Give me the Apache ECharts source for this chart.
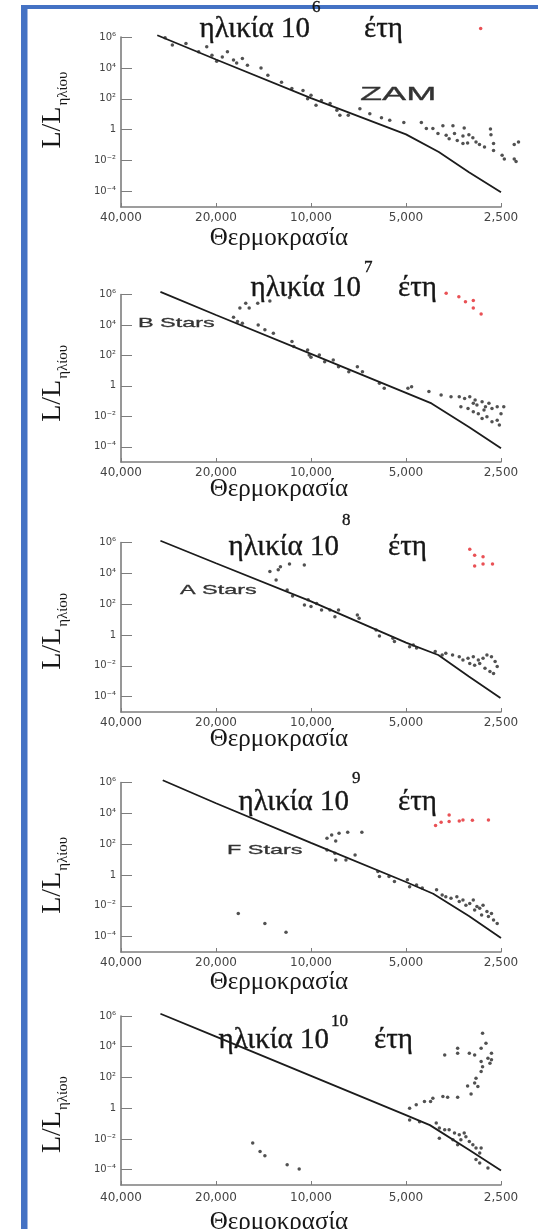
<!DOCTYPE html>
<html><head><meta charset="utf-8">
<script src="https://cdn.jsdelivr.net/npm/echarts@6/dist/echarts.min.js"></script>
<style>html,body{margin:0;padding:0;background:#fff}#c{width:538px;height:1229px}</style>
</head><body><div id="c"></div>
<script>
// ---------- data ----------
const tempTicks = [40000, 20000, 10000, 5000, 2500];
const lumTicks = [1e-4, 1e-2, 1, 1e2, 1e4, 1e6];
const ageExponents = ['6', '7', '8', '9', '10'];
const starLabels = ['ZAM', 'B Stars', 'A Stars', 'F Stars', ''];

const zams1 = [[30700,1.3e6],[20000,3.5e4],[10000,112],[5000,0.5],[3935,0.036],[3158,0.0018],[2500,9.1e-5]];
const zams2 = [[30000,1.5e6],[20000,4.5e4],[10000,126],[5000,0.35],[4150,0.07],[3160,0.002],[2500,8e-5]];
const zams3 = [[30000,1.3e6],[20000,4.5e4],[10000,150],[5000,0.32],[3950,0.05],[3160,0.002],[2510,8e-5]];
const zams4 = [[29500,1.4e6],[20000,4.5e4],[10000,120],[5000,0.35],[4100,0.06],[3160,0.0022],[2500,8e-5]];
const zams5 = [[30000,1.4e6],[20000,4.5e4],[10000,126],[5000,0.35],[4200,0.079],[3160,0.002],[2500,8.9e-5]];

const stars1 = [[29000,8.9e5],[27500,3.0e5],[24900,3.8e5],[22700,1.1e5],[21400,2.3e5],[20600,6.6e4],[19900,2.7e4],[19100,5.1e4],[18400,1.1e5],[17600,3.2e4],[17200,2.1e4],[16500,4.0e4],[15900,1.5e4],[14400,1.0e4],[13700,3.3e3],[12400,1.2e3],[11500,460],[10600,350],[10250,100],[10000,170],[9640,38],[9270,79],[8700,49],
[8280,18],[8100,8.7],[7620,8.7],[7000,23],[6510,11],[5980,5.9],[5630,4.1],[5080,2.9],[4470,2.9],[4310,1.2],[4110,1.2],[3820,1.8],[3550,1.8],[3270,1.3],[2700,1.1],[3960,0.56],[3730,0.44],[3510,0.56],[3300,0.40],[3160,0.48],[3070,0.30],[3650,0.26],[3440,0.20],[3300,0.13],[3190,0.14],[3000,0.16],[2925,0.11],[2820,0.076],[2690,0.48],[2640,0.13],[2640,0.046],[2480,0.022],[2440,0.013],[2270,0.013],[2270,0.11],[2200,0.16],[2240,0.0089]];
const red1 = [[2900,3.6e6]];

const stars2 = [[16100,2.7e5],[14750,2.7e5],[16800,1.3e5],[15700,1.3e5],[13500,3.8e5],[11700,6.3e5],
[17600,3.2e4],[17100,1.7e4],[16500,1.3e4],[14700,1.0e4],[14000,4.8e3],[13160,2.9e3],[11490,810],[11340,380],[10250,230],[10130,107],[10000,76],[9410,107],[9050,39],[8500,50],[8180,18],[7590,8.5],[7130,18],[6870,8.5],[6070,1.5],[5860,0.69],[4930,0.69],[4800,0.89],
[4230,0.42],[3870,0.25],[3600,0.19],[3390,0.19],[3260,0.15],[3140,0.19],[3020,0.12],[2980,0.055],[2870,0.091],[2800,0.043],[2730,0.071],[2670,0.033],[2570,0.043],[2500,0.015],[2450,0.043],[3350,0.043],[3180,0.033],[3060,0.02],[2950,0.015],[2870,0.0072],[2770,0.0093],[2670,0.0044],[2570,0.0056],[2530,0.0027],[3060,0.071],[2830,0.026]];
const red2 = [[3730,1.2e6],[3400,7.2e5],[3240,3.4e5],[3060,4.0e5],[3060,1.3e5],[2890,5.2e4]];

const stars3 = [[13500,1.3e4],[12700,1.7e4],[12500,2.7e4],[11700,4.1e4],[10500,3.5e4],[12900,3.7e3],
[11900,830],[11440,340],[10490,89],[10210,190],[10000,69],[9600,112],[9260,42],[8710,42],[8400,15],[8180,42],[7130,20],[7040,12],[6220,2.1],[6070,0.87],[5500,0.6],[5440,0.37],[4870,0.17],[4740,0.22],[4630,0.14],
[4040,0.083],[3840,0.05],[3740,0.065],[3560,0.05],[3390,0.039],[3300,0.024],[3180,0.031],[3060,0.039],[2950,0.024],[2850,0.031],[2770,0.05],[2680,0.039],[2610,0.019],[2570,0.0089],[3030,0.011],[2920,0.014],[2810,0.0069],[2710,0.0042],[2640,0.0032],[3140,0.014]];
const red3 = [[3140,3.6e5],[3030,1.5e5],[2850,1.2e5],[3030,3.0e4],[2850,4.1e4],[2660,4.1e4]];

const stars4 = [[8900,240],[8600,390],[8350,160],[8150,500],[7650,590],[6900,590],[8900,42],[8400,26],[8350,9.3],[7750,9.3],[7250,20],
[6140,1.7],[6070,0.78],[5660,0.78],[5440,0.37],[4950,0.48],[4870,0.17],[4630,0.22],[4440,0.14],
[4000,0.11],[3840,0.05],[3740,0.039],[3600,0.031],[3450,0.039],[3390,0.019],[3300,0.024],[3230,0.011],[3140,0.014],[3060,0.024],[2980,0.0089],[2920,0.0069],[2850,0.011],[2770,0.0042],[2680,0.0032],[2640,0.0012],[2570,0.00072],[2740,0.002],[2880,0.0025],[3030,0.0054],
[17000,0.0032],[14000,0.00072],[12000,0.00019]];
const red4 = [[4030,1600],[3870,2600],[3650,2900],[3650,7800],[3390,3200],[3300,3700],[3080,3500],[2740,3700]];

const stars5 = [[2860,7.4e4],[2790,1.7e4],[2890,7.9e3],[2680,3.7e3],[3770,2.9e3],[3430,7.9e3],[3430,3.7e3],[3150,3.7e3],[3030,2.9e3],[2750,1.8e3],[2890,1.1e3],[2680,1.4e3],[2710,830],[2860,500],[2890,240],[3000,89],[3030,43],[2960,26],[3190,28],[3110,8.5],[3430,5.2],[3690,5.2],[3820,5.8],[4110,4.5],[4180,2.7],[4370,2.7],[4640,1.7],[4870,1.0],
[4870,0.17],[4530,0.13],[4010,0.11],[3920,0.051],[3920,0.011],[3770,0.04],[3650,0.04],[3510,0.024],[3390,0.019],[3270,0.024],[3230,0.014],[3350,0.0089],[3150,0.0069],[3070,0.0042],[3000,0.0026],[2890,0.0026],[2920,0.0012],[3000,0.00045],[2920,0.00027],[2750,0.00013],[3430,0.0042],[3550,0.0089],
[15300,0.0054],[14500,0.0015],[14000,0.00081],[11900,0.00021],[10900,0.00011]];
const red5 = [];

// ---------- layout ----------
const panels = [
  {top:37,  height:170, zams:zams1, stars:stars1, red:red1, xNameGap:19, xLabMargin:5, yShift:-12,
   t:{x10:310, y:29, xs:312, ys:8, xe:364}, ann:{x:360, y:95, size:19, sx:1.9}},
  {top:294.5, height:167.5, zams:zams2, stars:stars2, red:red2, xNameGap:15, xLabMargin:5, yShift:5,
   t:{x10:361, y:288, xs:364, ys:268, xe:398}, ann:{x:138, y:323, size:13, sx:1.8}},
  {top:542.5, height:169.5, zams:zams3, stars:stars3, red:red3, xNameGap:15, xLabMargin:5, yShift:4,
   t:{x10:339, y:547, xs:342, ys:521, xe:388}, ann:{x:180, y:590, size:13, sx:1.8}},
  {top:782.5, height:169.5, zams:zams4, stars:stars4, red:red4, xNameGap:18, xLabMargin:5, yShift:8,
   t:{x10:349, y:802, xs:352, ys:779, xe:398}, ann:{x:227, y:850, size:13, sx:1.8}},
  {top:1016, height:169, zams:zams5, stars:stars5, red:red5, xNameGap:25, xLabMargin:7, yShift:14,
   t:{x10:329, y:1040, xs:331, ys:1021.5, xe:374}, ann:null}
];

const SUP = {'-':'\u207B','0':'\u2070','1':'\u00B9','2':'\u00B2','3':'\u00B3','4':'\u2074','5':'\u2075','6':'\u2076','7':'\u2077','8':'\u2078','9':'\u2079'};
function fmtL(v){ const e = Math.round(Math.log10(v)); return e === 0 ? '1' : '10' + String(e).split('').map(c => SUP[c]).join(''); }
function fmtT(v){ return Math.round(v).toLocaleString('en-US'); }

const AX = '#7d7d7d', INK = '#161616';
const grid = [], xAxis = [], yAxis = [], series = [], graphic = [];

graphic.push({type:'rect', shape:{x:21, y:5, width:6.5, height:1224}, style:{fill:'#4472c4'}, silent:true});
graphic.push({type:'rect', shape:{x:21, y:5, width:517, height:4}, style:{fill:'#4472c4'}, silent:true});

function txt(x, y, text, size, align, extra) {
  return Object.assign({type:'text', x:x, y:y, silent:true, style:{text:text, fontFamily:'Liberation Serif', fontSize:size, fill:INK,
    stroke:INK, lineWidth:0.35, align:align, textAlign:align, verticalAlign:'middle', textVerticalAlign:'middle'}}, extra || {});
}

panels.forEach((p, i) => {
  grid.push({left:121, width:380, top:p.top, height:p.height, containLabel:false, outerBoundsMode:'none'});
  xAxis.push({
    type:'log', logBase:2, gridIndex:i, inverse:true, min:2500, max:40000,
    axisLine:{show:true, onZero:false, lineStyle:{color:AX, width:1.6}},
    axisTick:{show:true, inside:true, length:4, customValues:tempTicks, lineStyle:{color:AX, width:1}},
    axisLabel:{show:true, customValues:tempTicks, formatter:fmtT, fontFamily:'DejaVu Sans', fontSize:12, color:'#444', margin:p.xLabMargin},
    splitLine:{show:false}, minorTick:{show:false}, minorSplitLine:{show:false},
    name:'Θερμοκρασία', nameLocation:'middle', nameGap:p.xNameGap, nameMoveOverlap:false,
    nameTextStyle:{fontFamily:'Liberation Serif', fontSize:25, color:INK, padding:[0,64,0,0]}
  });
  const sh = p.yShift;
  yAxis.push({
    type:'log', logBase:10, gridIndex:i, min:1e-5, max:1e6,
    axisLine:{show:true, onZero:false, lineStyle:{color:AX, width:1.6}},
    axisTick:{show:true, inside:true, length:11, customValues:lumTicks, lineStyle:{color:AX, width:1}},
    axisLabel:{show:true, customValues:lumTicks, formatter:fmtL, fontFamily:'DejaVu Sans', fontSize:10, color:'#444', margin:5},
    splitLine:{show:false}, minorTick:{show:false}, minorSplitLine:{show:false},
    name:'{a|L/L}{b|ηλίου}', nameLocation:'middle', nameRotate:90, nameGap:50, nameMoveOverlap:false,
    nameTextStyle:{color:INK, padding: sh < 0 ? [0,0,0,-2*sh] : [0,2*sh,0,0],
      rich:{a:{fontFamily:'Liberation Serif', fontSize:28, color:INK},
            b:{fontFamily:'Liberation Serif', fontSize:15, color:INK, padding:[22,0,0,1]}}}
  });
  series.push({type:'line', xAxisIndex:i, yAxisIndex:i, data:p.zams, showSymbol:false, symbol:'none', clip:false, silent:true, z:3,
    lineStyle:{color:'#1c1c1c', width:1.8}});
  series.push({type:'scatter', xAxisIndex:i, yAxisIndex:i, data:p.stars, symbolSize:3.5, clip:false, silent:true, z:4,
    itemStyle:{color:'#262626'}});
  if (p.red.length) series.push({type:'scatter', xAxisIndex:i, yAxisIndex:i, data:p.red, symbolSize:3.5, clip:false, silent:true, z:4,
    itemStyle:{color:'#e3262b'}});

  const t = p.t;
  graphic.push(txt(t.x10, t.y, 'ηλικία 10', 29, 'right'));
  graphic.push(txt(t.xs, t.ys, ageExponents[i], 17, 'left'));
  graphic.push(txt(t.xe, t.y, 'έτη', 29, 'left'));
  if (p.ann) graphic.push({type:'text', x:p.ann.x, y:p.ann.y, scaleX:p.ann.sx, silent:true, style:{text:starLabels[i], fontFamily:'Liberation Sans', fontSize:p.ann.size, fill:'#333', stroke:'#333', lineWidth:0.3, align:'left', textAlign:'left', verticalAlign:'middle', textVerticalAlign:'middle'}});
});

const chart = echarts.init(document.getElementById('c'));
chart.setOption({animation:false, backgroundColor:'#fff', grid, xAxis, yAxis, series, graphic});
</script></body></html>
